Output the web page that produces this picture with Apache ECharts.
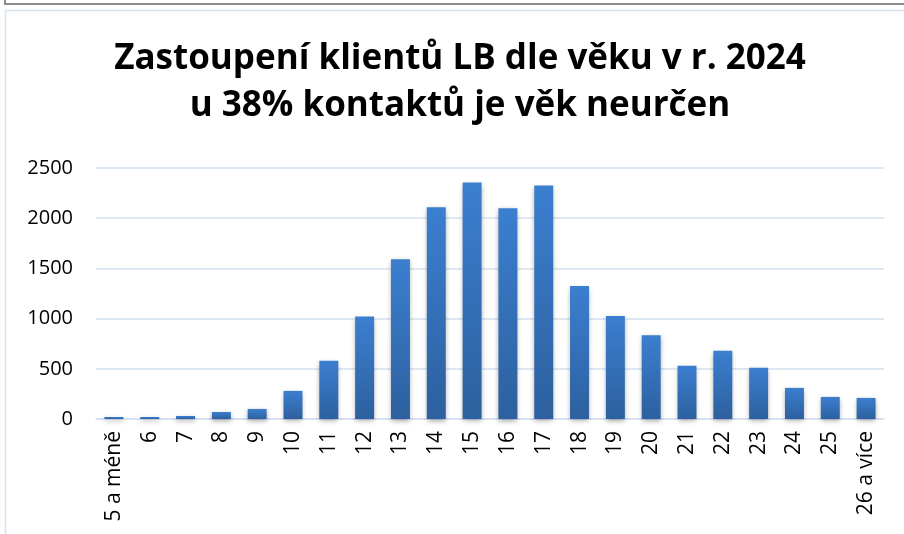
<!DOCTYPE html>
<html>
<head>
<meta charset="utf-8">
<script src="https://cdn.jsdelivr.net/npm/echarts@6/dist/echarts.min.js"></script>
<style>
	html, body { margin: 0; padding: 0; background: #fff; }
	#chart { width: 904px; height: 534px; }
</style>
</head>
<body>
<div id="chart"></div>
<script>
// kategorie věku
var vekKategorie = ['5 a méně', '6', '7', '8', '9', '10', '11', '12', '13', '14', '15', '16', '17', '18', '19', '20', '21', '22', '23', '24', '25', '26 a více'];
// počty klientů
var pocetKlientu = [20, 20, 30, 70, 100, 280, 580, 1020, 1590, 2110, 2355, 2100, 2325, 1325, 1025, 835, 530, 680, 510, 310, 220, 210];
// osa y
var osaYMax = 2500;
var osaYKrok = 500;

var nadpis1 = 'Zastoupení klientů LB dle věku v r. 2024';
var nadpis2 = 'u 38% kontaktů je věk neurčen';

var mujGraf = echarts.init(document.getElementById('chart'));

var option = {
	animation: false,
	backgroundColor: '#fff',
	title: {
		text: nadpis1 + '\n' + nadpis2,
		left: 460,
		top: 36,
		padding: 0,
		textAlign: 'center',
		textStyle: {
			fontFamily: 'Open Sans',
			fontWeight: 'bold',
			fontSize: 35,
			lineHeight: 47,
			color: '#000'
		}
	},
	grid: {
		left: 96,
		right: 20,
		top: 168,
		bottom: 115
	},
	xAxis: {
		type: 'category',
		data: vekKategorie,
		axisLine: { show: true, lineStyle: { color: '#d3dff0', width: 1.5 } },
		axisTick: { show: false },
		axisLabel: {
			rotate: 90,
			interval: 0,
			margin: 12,
			fontFamily: 'Open Sans',
			fontSize: 21,
			color: '#000'
		}
	},
	yAxis: {
		type: 'value',
		min: 0,
		max: osaYMax,
		interval: osaYKrok,
		axisLine: { show: false },
		axisTick: { show: false },
		splitLine: { lineStyle: { color: '#d3dff0', width: 1.5 } },
		axisLabel: {
			margin: 23,
			fontFamily: 'Open Sans',
			fontSize: 20,
			color: '#000',
			formatter: function (v) { return String(v); }
		}
	},
	series: [{
		type: 'bar',
		data: pocetKlientu,
		barWidth: '53%',
		itemStyle: {
			color: new echarts.graphic.LinearGradient(0, 0, 0, 1, [
				{ offset: 0, color: '#3b7fd0' },
				{ offset: 1, color: '#2d609e' }
			]),
			shadowColor: 'rgba(0,0,0,0.35)',
			shadowBlur: 5,
			shadowOffsetY: 2
		}
	}],
	graphic: [
		{
			type: 'rect',
			shape: { x: 5.5, y: 10.5, width: 910, height: 540 },
			style: { fill: 'none', stroke: '#d6e2f4', lineWidth: 1.5 },
			silent: true
		},
		{
			type: 'polyline',
			shape: { points: [[5, 0], [5, 4], [904, 4]] },
			style: { fill: 'none', stroke: '#8c8c8c', lineWidth: 2 },
			silent: true
		}
	]
};
mujGraf.setOption(option);
</script>
</body>
</html>
